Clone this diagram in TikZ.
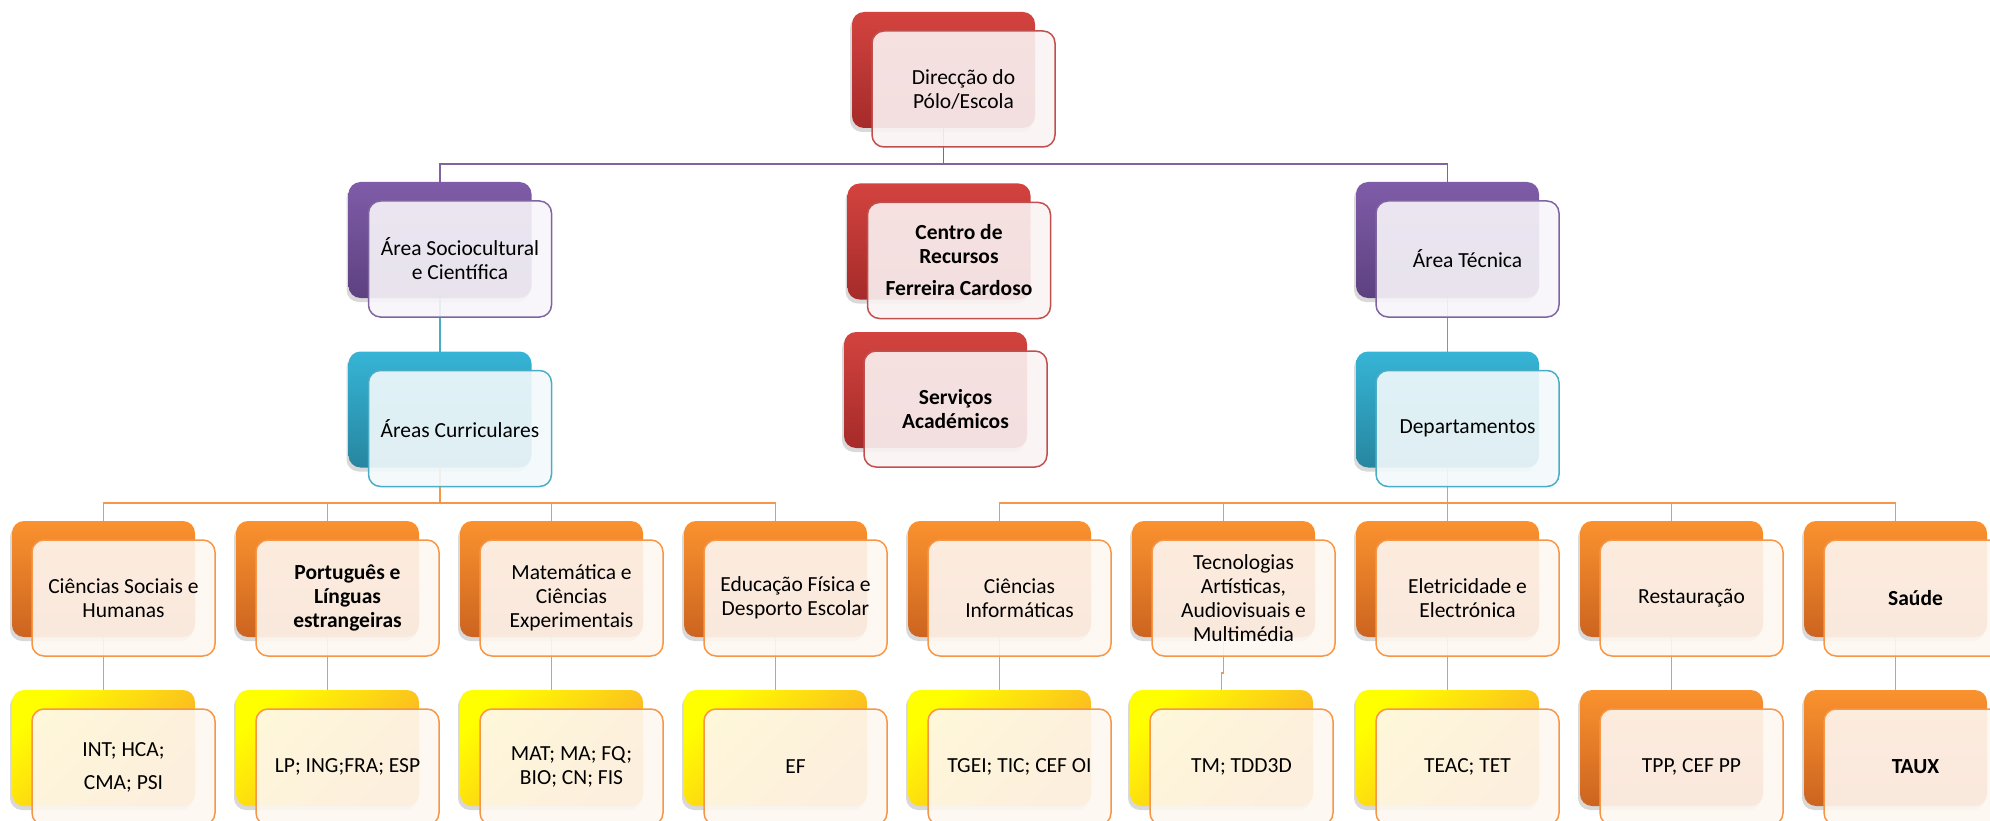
\documentclass[tikz,border=0pt]{standalone}
\usepackage{fontspec}
\setmainfont{Carlito}
\usepackage{tikz}
\usetikzlibrary{shadows}
\usetikzlibrary{backgrounds}
\definecolor{redtop}{HTML}{D3433F}
\definecolor{redbot}{HTML}{A52B2A}
\definecolor{redline}{HTML}{C0504D}
\definecolor{redfill}{HTML}{FBF3F3}
\definecolor{purtop}{HTML}{7F5CA8}
\definecolor{purbot}{HTML}{5D4180}
\definecolor{purline}{HTML}{8064A2}
\definecolor{purfill}{HTML}{F7F5F9}
\definecolor{teatop}{HTML}{36B4D6}
\definecolor{teabot}{HTML}{2786A0}
\definecolor{tealine}{HTML}{4BACC6}
\definecolor{teafill}{HTML}{F3FAFC}
\definecolor{oratop}{HTML}{FA922F}
\definecolor{orabot}{HTML}{CC6420}
\definecolor{oraline}{HTML}{F79646}
\definecolor{orafill}{HTML}{FEF7F1}
\definecolor{yeltop}{HTML}{FFFF00}
\definecolor{yelbot}{HTML}{FAA72A}
\tikzstyle{every node}=[font=\fontsize{21.5}{24}\selectfont, text=black]
\tikzstyle{backcard}=[minimum width=183pt, minimum height=116pt, rounded corners=12pt,
  drop shadow={shadow xshift=-2pt, shadow yshift=-4pt, opacity=.3}]
\tikzstyle{frontcard}=[minimum width=183pt, minimum height=116pt, rounded corners=12pt,
  inner sep=2pt, line width=1.5pt, fill opacity=.9, text opacity=1, align=center]
\tikzstyle{redback}=[backcard, top color=redtop, bottom color=redbot]
\tikzstyle{redfront}=[frontcard, draw=redline, fill=redfill]
\tikzstyle{purback}=[backcard, top color=purtop, bottom color=purbot]
\tikzstyle{purfront}=[frontcard, draw=purline, fill=purfill]
\tikzstyle{teaback}=[backcard, top color=teatop, bottom color=teabot]
\tikzstyle{teafront}=[frontcard, draw=tealine, fill=teafill]
\tikzstyle{oraback}=[backcard, top color=oratop, bottom color=orabot]
\tikzstyle{orafront}=[frontcard, draw=oraline, fill=orafill]
\tikzstyle{yelback}=[backcard, top color=yeltop, bottom color=yelbot, shading angle=45]
\tikzstyle{link}=[line width=1.5pt]

\begin{document}
\begin{tikzpicture}[x=1pt, y=-1pt]
  \useasboundingbox (0,0) rectangle (1990,821);
  \clip (0,0) rectangle (1990,821);

  % direccao
  \node[redback] (dirb) at (943.5,70) {};
  \node[redfront] (dirf) at (963.5,89) {Direcção do\\Pólo/Escola};

  % areas
  \node[purback] (socb) at (440,240) {};
  \node[purfront] (socf) at (460,259) {Área Sociocultural\\e Científica};
  \node[teaback] (curb) at (440,409.5) {};
  \node[teafront] (curf) at (460,428.5) {Áreas Curriculares};

  \node[redback] (cenb) at (939,241.5) {};
  \node[redfront] (cenf) at (959,260.5) {\bfseries Centro de\\\bfseries Recursos\\[8pt]\bfseries Ferreira Cardoso};
  \node[redback] (serb) at (935.5,390) {};
  \node[redfront] (serf) at (955.5,409) {\bfseries Serviços\\\bfseries Académicos};

  \node[purback] (tecb) at (1447.5,240) {};
  \node[purfront] (tecf) at (1467.5,259) {Área Técnica};
  \node[teaback] (depb) at (1447.5,409.5) {};
  \node[teafront] (depf) at (1467.5,428.5) {Departamentos};

  % grupos
  \node[oraback] (grp1b) at (103.5,579) {};
  \node[orafront] (grp1f) at (123.5,598) {Ciências Sociais e\\Humanas};
  \node[oraback] (grp2b) at (327.5,579) {};
  \node[orafront] (grp2f) at (347.5,598) {\bfseries Português e\\\bfseries Línguas\\\bfseries estrangeiras};
  \node[oraback] (grp3b) at (551.5,579) {};
  \node[orafront] (grp3f) at (571.5,598) {Matemática e\\Ciências\\Experimentais};
  \node[oraback] (grp4b) at (775.5,579) {};
  \node[orafront] (grp4f) at (795.5,598) {Educação Física e\\Desporto Escolar};
  \node[oraback] (grp5b) at (999.5,579) {};
  \node[orafront] (grp5f) at (1019.5,598) {Ciências\\Informáticas};
  \node[oraback] (grp6b) at (1223.5,579) {};
  \node[orafront] (grp6f) at (1243.5,598) {Tecnologias\\Artísticas,\\Audiovisuais e\\Multimédia};
  \node[oraback] (grp7b) at (1447.5,579) {};
  \node[orafront] (grp7f) at (1467.5,598) {Eletricidade e\\Electrónica};
  \node[oraback] (grp8b) at (1671.5,579) {};
  \node[orafront] (grp8f) at (1691.5,598) {Restauração};
  \node[oraback] (grp9b) at (1895.5,579) {};
  \node[orafront] (grp9f) at (1915.5,598) {\bfseries Saúde};

  % disciplinas
  \node[yelback] (sub1b) at (103.5,748) {};
  \node[orafront] (sub1f) at (123.5,767) {INT; HCA;\\[9pt]CMA; PSI};
  \node[yelback] (sub2b) at (327.5,748) {};
  \node[orafront] (sub2f) at (347.5,767) {LP; ING;FRA; ESP};
  \node[yelback] (sub3b) at (551.5,748) {};
  \node[orafront] (sub3f) at (571.5,767) {MAT; MA; FQ;\\BIO; CN; FIS};
  \node[yelback] (sub4b) at (775.5,748) {};
  \node[orafront] (sub4f) at (795.5,767) {EF};
  \node[yelback] (sub5b) at (999.5,748) {};
  \node[orafront] (sub5f) at (1019.5,767) {TGEI; TIC; CEF OI};
  \node[yelback] (sub6b) at (1221.5,748) {};
  \node[orafront] (sub6f) at (1241.5,767) {TM; TDD3D};
  \node[yelback] (sub7b) at (1447.5,748) {};
  \node[orafront] (sub7f) at (1467.5,767) {TEAC; TET};
  \node[oraback] (sub8b) at (1671.5,748) {};
  \node[orafront] (sub8f) at (1691.5,767) {TPP, CEF PP};
  \node[oraback] (sub9b) at (1895.5,748) {};
  \node[orafront] (sub9f) at (1915.5,767) {\bfseries TAUX};

  % ligacoes
  \begin{scope}[on background layer]
    \coordinate (topbus) at (0,164);
    \coordinate (lowbus) at (0,503);
    \draw[link, purline] (dirb.center) -- (dirb.center |- topbus) -| (socb.center);
    \draw[link, purline] (dirb.center |- topbus) -| (tecb.center);
    \draw[link, tealine] (socb.center) -- (curb.center);
    \draw[link, tealine] (tecb.center) -- (depb.center);
    \draw[link, oraline] (curb.center) -- (curb.center |- lowbus);
    \draw[link, oraline] (depb.center) -- (depb.center |- lowbus);
    \foreach \i in {1,...,4}
      \draw[link, oraline] (curb.center |- lowbus) -| (grp\i b.center);
    \foreach \i in {5,...,9}
      \draw[link, oraline] (depb.center |- lowbus) -| (grp\i b.center);
    \draw[link, oraline] (grp6b.center) -- ++(0,94) -| (sub6b.center);
    \foreach \i in {1,2,3,4,5,7,8,9}
      \draw[link, oraline] (grp\i b.center) -- (sub\i b.center);
  \end{scope}
\end{tikzpicture}
\end{document}
